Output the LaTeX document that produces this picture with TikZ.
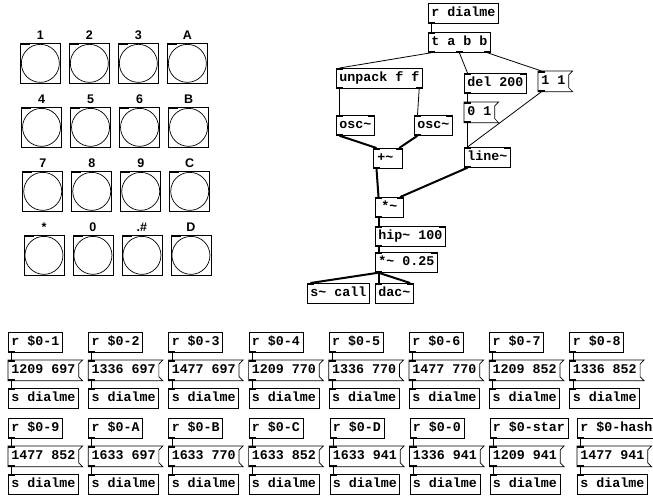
\documentclass[tikz,border=0pt]{standalone}
\usepackage{fontspec}
\usepackage{tikz}
\usetikzlibrary{positioning}
\newfontfamily\pdmono{Liberation Mono}
\newfontfamily\keysans{Liberation Sans}
\newcommand\pdfont{\pdmono\bfseries\fontsize{13.33}{15}\selectfont}
\newcommand\keyfont{\keysans\bfseries\fontsize{12.5}{14}\selectfont}
% inlet and outlet marks of a box
\newcommand\inletL[1]{\fill (#1.north west) rectangle ++(7,2);}
\newcommand\inletR[1]{\fill (#1.north east) rectangle ++(-7,2);}
\newcommand\outletL[1]{\fill (#1.south west) rectangle ++(7,-2);}
\newcommand\outletR[1]{\fill (#1.south east) rectangle ++(-7,-2);}
\newcommand\msgflag[1]{\draw[line width=0.7pt] (#1.north west) -- ([xshift=4pt]#1.north east) -- ([yshift=-4pt]#1.north east) -- ([yshift=4pt]#1.south east) -- ([xshift=4pt]#1.south east) -- (#1.south west) -- cycle;}
\tikzset{
  pdobj/.style={draw, line width=0.7pt, anchor=north west, font=\pdfont, inner xsep=3pt, inner ysep=0pt, minimum height=20pt, text height=9pt, text depth=3pt},
  pdmsg/.style={pdobj, draw=none},
  ctl/.style={line width=0.8pt},
  sig/.style={line width=2pt},
  bang/.style={draw, line width=0.7pt, anchor=north west, minimum size=40pt, inner sep=0pt},
  keylbl/.style={font=\keyfont, inner sep=0pt, text depth=0pt}
}

\begin{document}
\begin{tikzpicture}[x=1pt, y=-1pt]
\useasboundingbox[fill=white] (0,0) rectangle (653,496);

% keypad
\foreach \lab [count=\i from 0] in {1,2,3,A,4,5,6,B,7,8,9,C,*,0,.\#,D} {
  \pgfmathtruncatemacro\col{mod(\i,4)}
  \pgfmathtruncatemacro\row{\i/4}
  \node[bang] (b\i) at (20+49*\col+1.2*\row, 43+64*\row) {};
  \draw[line width=0.7pt] (b\i.center) circle (19pt);
  \fill (b\i.north west) rectangle ++(10,2);
  \node[keylbl, above=3.5pt of b\i] (k\i) {\lab};
}

% dialler
\node[pdobj] (rdial) at (428,3) {r dialme};
\node[pdobj] (tabb) at (428,32) {t a b b};
\node[pdobj] (unpack) at (336,68) {unpack f f};
\node[pdobj] (del) at (464,73) {del 200};
\node[pdmsg] (m11) at (538,71) {1 1};
\node[pdmsg] (m01) at (464,102) {0 1};
\node[pdobj] (osc1) at (336,115) {osc\textasciitilde};
\node[pdobj] (osc2) at (414,115) {osc\textasciitilde};
\node[pdobj, minimum width=29pt, align=left] (plus) at (373,148) {+\textasciitilde\hspace{5pt}};
\node[pdobj] (line) at (464,147) {line\textasciitilde};
\node[pdobj, minimum width=28pt] (mul) at (375,197) {*\textasciitilde\hspace{4pt}};
\node[pdobj] (hip) at (375,226) {hip\textasciitilde{} 100};
\node[pdobj] (mul2) at (375,252) {*\textasciitilde{} 0.25};
\node[pdobj] (scall) at (307,283) {s\textasciitilde{} call};
\node[pdobj] (dac) at (375,283) {dac\textasciitilde};
\msgflag{m11}
\msgflag{m01}

\outletL{rdial}
\inletL{tabb} \outletL{tabb} \outletR{tabb}
\fill ([xshift=-3.5pt]tabb.south) rectangle ++(7,-2);
\inletL{unpack} \outletL{unpack} \outletR{unpack}
\foreach \n in {m11,m01} {\inletL{\n} \outletL{\n}}
\foreach \n in {del,osc1,osc2,plus,line,mul,hip,mul2} {\inletL{\n} \inletR{\n} \outletL{\n}}
\inletL{scall}
\inletL{dac} \inletR{dac}

\draw[ctl] ([xshift=3.5pt]rdial.south west) -- ([xshift=3.5pt]tabb.north west);
\draw[ctl] ([xshift=3.5pt]tabb.south west) -- ([xshift=3.5pt]unpack.north west);
\draw[ctl] (tabb.south) -- ([xshift=3.5pt]del.north west);
\draw[ctl] ([xshift=-3.5pt]tabb.south east) -- ([xshift=3.5pt]m11.north west);
\draw[ctl] ([xshift=3.5pt]unpack.south west) -- ([xshift=3.5pt]osc1.north west);
\draw[ctl] ([xshift=-3.5pt]unpack.south east) -- ([xshift=3.5pt]osc2.north west);
\draw[ctl] ([xshift=3.5pt]del.south west) -- ([xshift=3.5pt]m01.north west);
\draw[ctl] ([xshift=3.5pt]m01.south west) -- ([xshift=3.5pt]line.north west);
\draw[ctl] ([xshift=3.5pt]m11.south west) -- ([xshift=3.5pt]line.north west);
\draw[sig] ([xshift=3.5pt]osc1.south west) -- ([xshift=3.5pt]plus.north west);
\draw[sig] ([xshift=3.5pt]osc2.south west) -- ([xshift=-3.5pt]plus.north east);
\draw[sig] ([xshift=3.5pt]plus.south west) -- ([xshift=3.5pt]mul.north west);
\draw[sig] ([xshift=3.5pt]line.south west) -- ([xshift=-3.5pt]mul.north east);
\draw[sig] ([xshift=3.5pt]mul.south west) -- ([xshift=3.5pt]hip.north west);
\draw[sig] ([xshift=3.5pt]hip.south west) -- ([xshift=3.5pt]mul2.north west);
\draw[sig] ([xshift=3.5pt]mul2.south west) -- ([xshift=3.5pt]scall.north west);
\draw[sig] ([xshift=3.5pt]mul2.south west) -- ([xshift=3.5pt]dac.north west);
\draw[sig] ([xshift=3.5pt]mul2.south west) -- ([xshift=-3.5pt]dac.north east);

% tone pairs
\foreach \nm/\num/\x/\y [count=\i] in {1/1209 697/8/332, 2/1336 697/88.2/332, 3/1477 697/168.4/332, 4/1209 770/248.6/332, 5/1336 770/328.8/332, 6/1477 770/409/332, 7/1209 852/489.2/332, 8/1336 852/569.4/332, 9/1477 852/8/418, A/1633 697/88.2/418, B/1633 770/168.4/418, C/1633 852/248.6/418, D/1633 941/329.5/418, 0/1336 941/409.5/418, star/1209 941/489.5/418, hash/1477 941/577/418} {
  \node[pdobj] (r\i) at (\x,\y) {r \$0-\nm};
  \node[pdmsg] (m\i) at (\x,\y+28) {\num};
  \node[pdobj] (s\i) at (\x,\y+56) {s dialme};
  \msgflag{m\i}
  \outletL{r\i} \inletL{m\i} \outletL{m\i} \inletL{s\i}
  \draw[ctl] ([xshift=3.5pt]r\i.south west) -- ([xshift=3.5pt]m\i.north west);
  \draw[ctl] ([xshift=3.5pt]m\i.south west) -- ([xshift=3.5pt]s\i.north west);
}
\end{tikzpicture}
\end{document}
